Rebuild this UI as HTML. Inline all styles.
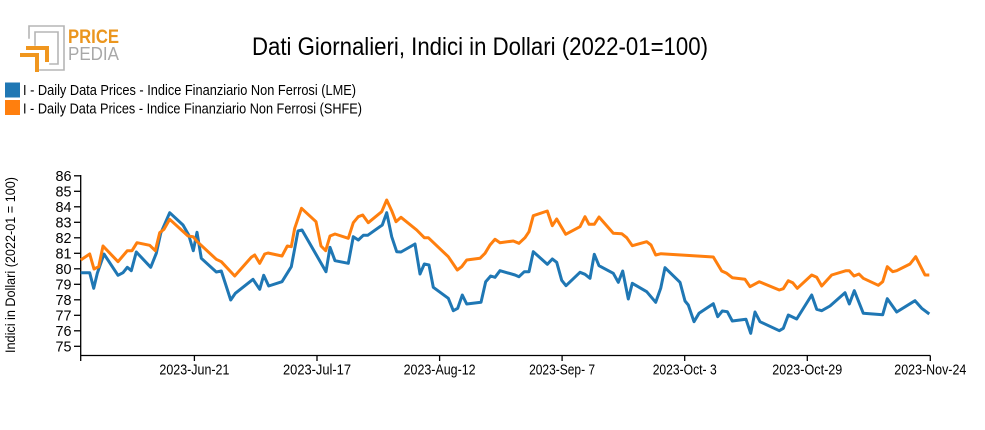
<!DOCTYPE html>
<html><head><meta charset="utf-8"><style>
html,body{margin:0;padding:0;background:#fff;}
svg{display:block;font-family:"Liberation Sans Narrow","Liberation Sans",sans-serif;}
</style></head><body>
<svg width="985" height="430" viewBox="0 0 985 430" xmlns="http://www.w3.org/2000/svg">
<!-- logo -->
<g fill="none" stroke-linecap="square">
<polyline points="29,38 29,26 64,26 64,70 40,70" stroke="#b5b5b5" stroke-width="1.6"/>
<polyline points="35,45 35,32 58,32 58,64 50,64" stroke="#b5b5b5" stroke-width="1.6"/>
<polyline points="22,55 37,55 37,70" stroke="#f0961e" stroke-width="4"/>
<polyline points="28,48 47,48 47,60" stroke="#f0961e" stroke-width="4"/>
</g>
<text x="68" y="43" font-size="19" font-weight="bold" fill="#eb961e" textLength="51" lengthAdjust="spacingAndGlyphs">PRICE</text>
<text x="68" y="60" font-size="18" fill="#a8a8a8" textLength="51" lengthAdjust="spacingAndGlyphs">PEDIA</text>
<!-- title -->
<text x="252" y="55" font-size="25" fill="#000" textLength="456" lengthAdjust="spacingAndGlyphs">Dati Giornalieri, Indici in Dollari (2022-01=100)</text>
<!-- legend -->
<rect x="5" y="82.5" width="15" height="15" fill="#1f77b4"/>
<rect x="5" y="100" width="15" height="15" fill="#ff7f0e"/>
<text x="23" y="95" font-size="14.5" fill="#000" textLength="333" lengthAdjust="spacingAndGlyphs">I - Daily Data Prices - Indice Finanziario Non Ferrosi (LME)</text>
<text x="23" y="113.5" font-size="14.5" fill="#000" textLength="339" lengthAdjust="spacingAndGlyphs">I - Daily Data Prices - Indice Finanziario Non Ferrosi (SHFE)</text>
<!-- y axis label -->
<text transform="translate(15,265) rotate(-90)" text-anchor="middle" font-size="13.5" fill="#000" textLength="176" lengthAdjust="spacingAndGlyphs">Indici in Dollari (2022-01 = 100)</text>
<!-- axes -->
<g stroke="#000" stroke-width="1.3" fill="none">
<line x1="80.7" y1="175" x2="80.7" y2="355.5"/>
<line x1="80.7" y1="355.5" x2="930.3" y2="355.5"/>
<line x1="74" y1="175.8" x2="80.7" y2="175.8"/>
<line x1="74" y1="191.3" x2="80.7" y2="191.3"/>
<line x1="74" y1="206.8" x2="80.7" y2="206.8"/>
<line x1="74" y1="222.3" x2="80.7" y2="222.3"/>
<line x1="74" y1="237.8" x2="80.7" y2="237.8"/>
<line x1="74" y1="253.3" x2="80.7" y2="253.3"/>
<line x1="74" y1="268.8" x2="80.7" y2="268.8"/>
<line x1="74" y1="284.3" x2="80.7" y2="284.3"/>
<line x1="74" y1="299.8" x2="80.7" y2="299.8"/>
<line x1="74" y1="315.3" x2="80.7" y2="315.3"/>
<line x1="74" y1="330.8" x2="80.7" y2="330.8"/>
<line x1="74" y1="346.3" x2="80.7" y2="346.3"/>
<line x1="80.7" y1="355.5" x2="80.7" y2="361"/>
<line x1="194.4" y1="355.5" x2="194.4" y2="361"/>
<line x1="317" y1="355.5" x2="317" y2="361"/>
<line x1="439.6" y1="355.5" x2="439.6" y2="361"/>
<line x1="562.1" y1="355.5" x2="562.1" y2="361"/>
<line x1="684.7" y1="355.5" x2="684.7" y2="361"/>
<line x1="807.3" y1="355.5" x2="807.3" y2="361"/>
<line x1="930.3" y1="355.5" x2="930.3" y2="361"/>
</g>
<g font-size="14.5" fill="#000" text-anchor="end">
<text x="71.5" y="180.8" textLength="16" lengthAdjust="spacingAndGlyphs">86</text>
<text x="71.5" y="196.3" textLength="16" lengthAdjust="spacingAndGlyphs">85</text>
<text x="71.5" y="211.8" textLength="16" lengthAdjust="spacingAndGlyphs">84</text>
<text x="71.5" y="227.3" textLength="16" lengthAdjust="spacingAndGlyphs">83</text>
<text x="71.5" y="242.8" textLength="16" lengthAdjust="spacingAndGlyphs">82</text>
<text x="71.5" y="258.3" textLength="16" lengthAdjust="spacingAndGlyphs">81</text>
<text x="71.5" y="273.8" textLength="16" lengthAdjust="spacingAndGlyphs">80</text>
<text x="71.5" y="289.3" textLength="16" lengthAdjust="spacingAndGlyphs">79</text>
<text x="71.5" y="304.8" textLength="16" lengthAdjust="spacingAndGlyphs">78</text>
<text x="71.5" y="320.3" textLength="16" lengthAdjust="spacingAndGlyphs">77</text>
<text x="71.5" y="335.8" textLength="16" lengthAdjust="spacingAndGlyphs">76</text>
<text x="71.5" y="351.3" textLength="16" lengthAdjust="spacingAndGlyphs">75</text>
</g>
<g font-size="14.5" fill="#000" text-anchor="middle">
<text x="194.4" y="374.5" textLength="70" lengthAdjust="spacingAndGlyphs">2023-Jun-21</text>
<text x="317" y="374.5" textLength="68" lengthAdjust="spacingAndGlyphs">2023-Jul-17</text>
<text x="439.6" y="374.5" textLength="72" lengthAdjust="spacingAndGlyphs">2023-Aug-12</text>
<text x="562.1" y="374.5" textLength="66" lengthAdjust="spacingAndGlyphs">2023-Sep- 7</text>
<text x="684.7" y="374.5" textLength="64" lengthAdjust="spacingAndGlyphs">2023-Oct- 3</text>
<text x="807.3" y="374.5" textLength="70" lengthAdjust="spacingAndGlyphs">2023-Oct-29</text>
<text x="930.3" y="374.5" textLength="72" lengthAdjust="spacingAndGlyphs">2023-Nov-24</text>
</g>
<!-- series -->
<polyline fill="none" stroke="#1f77b4" stroke-width="3" stroke-linejoin="round" points="80.7,272.7 89.7,272.7 93.7,288.3 97.3,273.3 104,254 118,275.3 123,272.7 127.3,267.3 131.3,270.7 136.3,252 150.7,267.3 156.3,253.3 160.7,233.3 169.7,212.7 183,225 188.7,235 193.3,250.7 197,232.3 201.3,258.3 216.3,272 221.3,271 230.7,300 235.3,293.3 253,279.3 259.7,289.3 263.7,275.3 268.7,286 282,281.7 291.3,266.7 298,231 302,230 326,271.7 330,247.3 335,260.7 348.3,263.3 353.3,236.7 358.3,240 363.3,235.3 367.7,235.3 382.3,225 386.7,212.7 391.7,236.7 396.7,251.7 401,252 415,244 420,274 424.3,264 429,265 433.3,287.3 448.3,298.3 453.3,310.7 457.7,308.3 462.3,295 466.7,304 481,302.3 485.7,281.7 490.7,276 495,277.3 500,270.7 515,275 519,276.7 524.3,271.7 529,271.7 533.3,251.7 547.3,264.3 552.3,259 556.7,262.3 561.7,280.3 566,285.7 580,272.3 585,274.3 590,278.3 594.3,254.3 599,265.7 613.3,273.3 618.3,282.3 622.7,271 628.3,299 632.3,283.3 646.7,291.7 655.7,302.3 660.7,288.3 665,267.7 680,282.3 685,301 688.3,305 694,321.7 699,313.3 713.3,303.7 717.7,316.7 722.3,311 727.3,311.7 732.3,321 746,319.3 750.7,333.3 755,312 760,321.7 779.3,330.7 783.3,328.3 788.3,315 796.7,319 811.7,295 816.7,309.3 821.7,310.7 830,306 845,292.7 849.3,304 854.3,290.7 863.3,313.3 882.7,314.7 887.3,298.7 896.7,312 915,300.7 921.7,308.3 929.3,314"/>
<polyline fill="none" stroke="#ff7f0e" stroke-width="3" stroke-linejoin="round" points="80.7,260 89.7,254 94,269 98.7,266.7 103,246 118,261.7 127.3,250.7 132,250.7 137,242.7 149.7,245.3 155.3,250.7 159.7,232.7 164,229.3 169.7,219.3 188,236 193,236.7 197.3,241.7 216.3,259.3 221.3,261.7 234.7,276 251.3,257.3 254.7,255 259.7,263.3 264.7,254 268,253 282,256 287.3,246 291.3,246.7 294.7,228.3 301.5,208.3 316,221.7 321,246 325.7,250.7 330,236 335,234 348.3,238.3 353.3,222.7 358.3,216.7 362.7,215 368.3,222.7 381.7,211.7 386.7,200 391.7,210.7 396,221.7 401,217.3 416.7,230 424.3,237.7 428.3,237.7 448.3,256.7 457.3,270 461.7,266.7 466.7,260 480,258.3 485,253.3 490,245 495,239.3 500,242.7 513.3,241 519,243.3 525,237.7 529,231.7 533.3,215.7 547.3,211 552.3,225.7 556.7,219 565.7,234.3 580,226.7 585,216.7 589,224.3 594.3,224.3 599,217 613.3,233.3 621.7,233.7 626.7,237.7 632.3,245.7 646.7,241.7 651,245 655.7,255 661,253.7 713.3,257 721.7,271 726.7,273.3 732.3,277.7 745,279.3 750,286.7 759.3,281.7 779.3,290 783.3,288.7 788.3,280.7 792.7,282.7 797.3,288.3 811.7,275 816.7,277.3 821.7,286 831.7,275 846,270.7 849.3,270.7 854,276 859,274 863.3,278.3 878.3,285.3 882.7,281.7 887.3,266.7 892.7,271.7 896.7,270.7 910,264 915.7,256.7 925,275 929.3,275"/>
</svg>
</body></html>
